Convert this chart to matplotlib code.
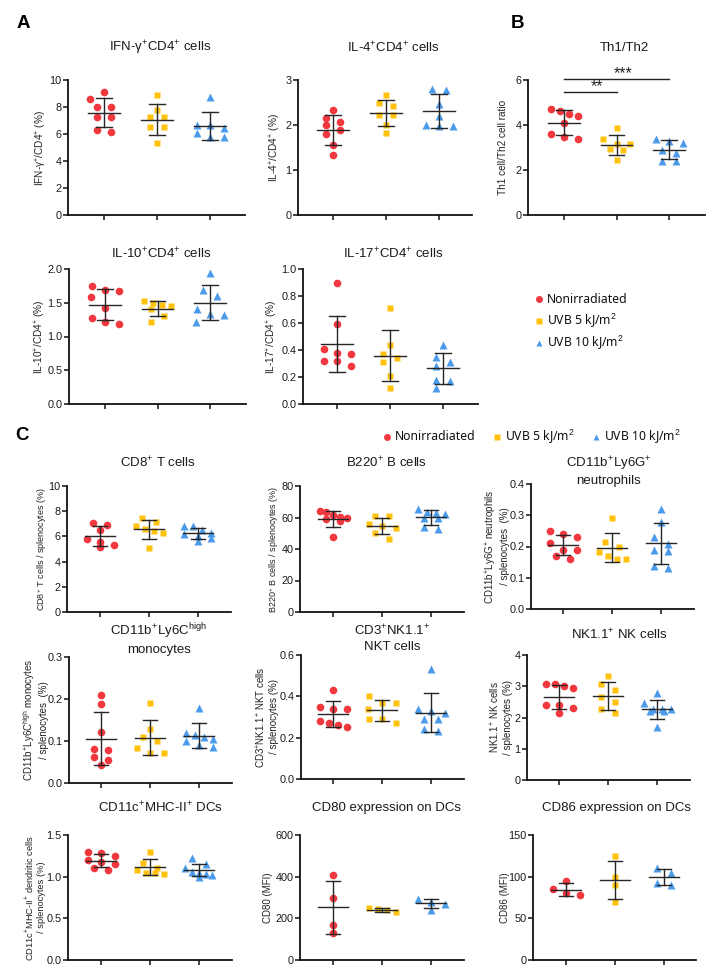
import numpy as np
import matplotlib
matplotlib.use("Agg")
import matplotlib.pyplot as plt
from matplotlib.lines import Line2D
from matplotlib.ticker import FormatStrFormatter

plt.rcParams['font.family'] = ['Liberation Sans', 'DejaVu Sans']
plt.rcParams['mathtext.fontset'] = 'custom'
plt.rcParams['mathtext.rm'] = 'Liberation Sans'
plt.rcParams['mathtext.it'] = 'Liberation Sans:italic'
plt.rcParams['mathtext.bf'] = 'Liberation Sans:bold'

W, H, DPI = 714, 976, 100

# ---------------- groups ----------------
group_labels = ['Nonirradiated', 'UVB 5 kJ/m$^2$', 'UVB 10 kJ/m$^2$']
group_colors = ['#F2383F', '#FFC20E', '#4B9BEA']
group_markers = ['o', 's', '^']

# ---------------- data (panel A / B) ----------------
ifng_non = [9.14, 8.57, 8.02, 8.02, 7.23, 7.23, 6.30, 6.17]
ifng_uv5 = [8.89, 7.78, 7.23, 7.23, 6.49, 6.49, 5.31]
ifng_uv10 = [8.77, 6.65, 6.65, 6.45, 5.80, 6.05, 5.80]

il4_non = [2.33, 2.16, 2.06, 1.99, 1.90, 1.79, 1.55, 1.33]
il4_uv5 = [2.67, 2.42, 2.49, 2.23, 2.23, 2.01, 1.82]
il4_uv10 = [2.81, 2.78, 2.46, 2.20, 2.00, 1.97, 1.97]

th_non = [4.64, 4.69, 4.42, 4.51, 4.09, 3.60, 3.38, 3.47]
th_uv5 = [3.87, 3.38, 3.17, 3.17, 2.95, 2.90, 2.43]
th_uv10 = [3.38, 3.30, 3.20, 2.90, 2.75, 2.40, 2.40]

il10_non = [1.69, 1.75, 1.68, 1.58, 1.42, 1.28, 1.18, 1.21]
il10_uv5 = [1.52, 1.50, 1.47, 1.45, 1.41, 1.31, 1.21]
il10_uv10 = [1.94, 1.69, 1.60, 1.41, 1.33, 1.32, 1.22]

il17_non = [0.90, 0.59, 0.41, 0.37, 0.38, 0.28, 0.32, 0.32]
il17_uv5 = [0.71, 0.44, 0.37, 0.34, 0.31, 0.21, 0.12]
il17_uv10 = [0.44, 0.31, 0.35, 0.28, 0.18, 0.17, 0.12]

# ---------------- data (panel C) ----------------
cd8_non = [7.08, 6.50, 5.78, 5.17, 5.57, 6.90, 5.30]
cd8_uv5 = [7.16, 7.48, 6.55, 6.85, 6.45, 6.30, 5.09]
cd8_uv10 = [6.85, 6.80, 6.50, 6.30, 6.20, 6.00, 5.90, 5.60]

b220_non = [64.0, 63.2, 61.6, 60.5, 60.0, 59.0, 58.0, 47.5]
b220_uv5 = [60.7, 60.7, 56.0, 54.3, 53.3, 50.0, 46.4]
b220_uv10 = [65.7, 63.5, 62.8, 62.5, 60.0, 59.5, 54.0, 52.4]

neu_non = [0.25, 0.24, 0.23, 0.21, 0.19, 0.19, 0.17, 0.16]
neu_uv5 = [0.291, 0.213, 0.20, 0.181, 0.16, 0.16, 0.17]
neu_uv10 = [0.319, 0.277, 0.208, 0.229, 0.187, 0.19, 0.13, 0.138]

mono_non = [0.21, 0.189, 0.121, 0.081, 0.078, 0.063, 0.054, 0.044]
mono_uv5 = [0.191, 0.129, 0.11, 0.083, 0.099, 0.071, 0.072]
mono_uv10 = [0.179, 0.12, 0.115, 0.11, 0.105, 0.10, 0.09, 0.085]

nkt_non = [0.43, 0.35, 0.34, 0.34, 0.28, 0.27, 0.25, 0.26]
nkt_uv5 = [0.40, 0.37, 0.37, 0.34, 0.29, 0.27, 0.29]
nkt_uv10 = [0.531, 0.33, 0.34, 0.32, 0.29, 0.29, 0.23, 0.24]

nk_non = [3.01, 2.93, 3.07, 3.07, 2.40, 2.40, 2.31, 2.13]
nk_uv5 = [3.33, 3.07, 2.88, 2.65, 2.50, 2.26, 2.13]
nk_uv10 = [2.79, 2.45, 2.27, 2.27, 2.27, 2.20, 2.20, 1.69]

dc_non = [1.30, 1.28, 1.25, 1.20, 1.18, 1.15, 1.10, 1.08]
dc_uv5 = [1.30, 1.17, 1.10, 1.08, 1.05, 1.05, 1.03]
dc_uv10 = [1.22, 1.15, 1.10, 1.06, 1.05, 1.03, 1.02, 1.00]

cd80_non = [410, 300, 170, 130]
cd80_uv5 = [250, 245, 240, 230]
cd80_uv10 = [295, 280, 270, 240]

cd86_non = [95, 85, 80, 78]
cd86_uv5 = [125, 100, 90, 70]
cd86_uv10 = [110, 105, 90, 92]

# ---------------- panel specs ----------------
# rect: (x_left, x_right, y_top, y_bottom) in pixels; g1/sp: first group px, spacing px
panels = [
    dict(data=(ifng_non, ifng_uv5, ifng_uv10), rect=(68, 245, 80, 215), g1=104, sp=53,
         ylim=(0, 10), yticks=[0, 2, 4, 6, 8, 10], fmt='%d',
         title='IFN-γ$^{+}$CD4$^{+}$ cells', txy=(160, 48),
         ylabel='IFN-γ$^{+}$/CD4$^{+}$ (%)', ylx=41, ylfs=7.2),
    dict(data=(il4_non, il4_uv5, il4_uv10), rect=(298, 472, 80, 215), g1=333, sp=53,
         ylim=(0, 3), yticks=[0, 1, 2, 3], fmt='%d',
         title='IL-4$^{+}$CD4$^{+}$ cells', txy=(393, 48),
         ylabel='IL-4$^{+}$/CD4$^{+}$ (%)', ylx=275, ylfs=7.2),
    dict(data=(th_non, th_uv5, th_uv10), rect=(528, 705, 80, 215), g1=564, sp=52.5,
         ylim=(0, 6), yticks=[0, 2, 4, 6], fmt='%d',
         title='Th1/Th2', txy=(624, 48),
         ylabel='Th1 cell/Th2 cell ratio', ylx=503, ylfs=7.2),
    dict(data=(il10_non, il10_uv5, il10_uv10), rect=(69, 246, 269, 404), g1=105, sp=52.5,
         ylim=(0, 2), yticks=[0, 0.5, 1.0, 1.5, 2.0], fmt='%.1f',
         title='IL-10$^{+}$CD4$^{+}$ cells', txy=(161, 254),
         ylabel='IL-10$^{+}$/CD4$^{+}$ (%)', ylx=40, ylfs=7.2),
    dict(data=(il17_non, il17_uv5, il17_uv10), rect=(303, 478, 269, 404), g1=337, sp=53,
         ylim=(0, 1), yticks=[0, 0.2, 0.4, 0.6, 0.8, 1.0], fmt='%.1f',
         title='IL-17$^{+}$CD4$^{+}$ cells', txy=(393, 254),
         ylabel='IL-17$^{+}$/CD4$^{+}$ (%)', ylx=272, ylfs=7.2),
    dict(data=(cd8_non, cd8_uv5, cd8_uv10), rect=(67, 231, 486, 612), g1=100, sp=49,
         ylim=(0, 10), yticks=[0, 2, 4, 6, 8, 10], fmt='%d',
         title='CD8$^{+}$ T cells', txy=(158, 463),
         ylabel='CD8$^{+}$ T cells / splenocytes (%)', ylx=42, ylfs=6.5),
    dict(data=(b220_non, b220_uv5, b220_uv10), rect=(300, 464, 486, 612), g1=333, sp=49,
         ylim=(0, 80), yticks=[0, 20, 40, 60, 80], fmt='%d',
         title='B220$^{+}$ B cells', txy=(387, 463),
         ylabel='B220$^{+}$ B cells / splenocytes (%)', ylx=274, ylfs=6.5),
    dict(data=(neu_non, neu_uv5, neu_uv10), rect=(531, 694, 484, 609), g1=563, sp=49,
         ylim=(0, 0.4), yticks=[0, 0.1, 0.2, 0.3, 0.4], fmt='%.1f',
         title='CD11b$^{+}$Ly6G$^{+}$\nneutrophils', txy=(609, 471),
         ylabel='CD11b$^{+}$Ly6G$^{+}$ neutrophils\n/ splenocytes  (%)', ylx=497, ylfs=7.0),
    dict(data=(mono_non, mono_uv5, mono_uv10), rect=(69, 232, 657, 783), g1=101, sp=49,
         ylim=(0, 0.3), yticks=[0, 0.1, 0.2, 0.3], fmt='%.1f',
         title='CD11b$^{+}$Ly6C$^{\\mathrm{high}}$\nmonocytes', txy=(159, 639),
         ylabel='CD11b$^{+}$Ly6C$^{\\mathrm{high}}$ monocytes\n/ splenocytes  (%)', ylx=35, ylfs=7.0),
    dict(data=(nkt_non, nkt_uv5, nkt_uv10), rect=(301, 464, 655, 779), g1=333, sp=49,
         ylim=(0, 0.6), yticks=[0, 0.2, 0.4, 0.6], fmt='%.1f',
         title='CD3$^{+}$NK1.1$^{+}$\nNKT cells', txy=(392, 638),
         ylabel='CD3$^{+}$NK1.1$^{+}$ NKT cells\n/ splenocytes (%)', ylx=267, ylfs=7.0),
    dict(data=(nk_non, nk_uv5, nk_uv10), rect=(527, 690, 655, 780), g1=559, sp=49,
         ylim=(0, 4), yticks=[0, 1, 2, 3, 4], fmt='%d',
         title='NK1.1$^{+}$ NK cells', txy=(619, 635),
         ylabel='NK1.1$^{+}$ NK cells\n/ splenocytes (%)', ylx=501, ylfs=7.0),
    dict(data=(dc_non, dc_uv5, dc_uv10), rect=(68, 232, 835, 960), g1=101, sp=49,
         ylim=(0, 1.5), yticks=[0, 0.5, 1.0, 1.5], fmt='%.1f',
         title='CD11c$^{+}$MHC-II$^{+}$ DCs', txy=(160, 808),
         ylabel='CD11c$^{+}$MHC-II$^{+}$ dendritic cells\n/ splenocytes (%)', ylx=35, ylfs=6.7),
    dict(data=(cd80_non, cd80_uv5, cd80_uv10), rect=(300, 464, 835, 960), g1=333, sp=49,
         ylim=(0, 600), yticks=[0, 200, 400, 600], fmt='%d',
         title='CD80 expression on DCs', txy=(387, 808),
         ylabel='CD80 (MFI)', ylx=268, ylfs=7.0),
    dict(data=(cd86_non, cd86_uv5, cd86_uv10), rect=(533, 696, 835, 960), g1=566, sp=49,
         ylim=(0, 150), yticks=[0, 50, 100, 150], fmt='%d',
         title='CD86 expression on DCs', txy=(617, 808),
         ylabel='CD86 (MFI)', ylx=505, ylfs=7.0),
]

fig = plt.figure(figsize=(W / DPI, H / DPI), dpi=DPI)
fig.patch.set_facecolor('white')

MS = {'o': 5.5, 's': 5.0, '^': 5.6}
BINH = 7.0      # px, row height for the dot arrangement
HALF = 6.8      # px, shift for isolated points
SPREF = 13.6    # px, preferred spacing within a row
MAXW = 27.0     # px, max row width
DIAM = 7.0
VGAP = 8.0


def swarm(vals, ppx, ppy):
    v = np.asarray(vals, float)
    order = np.argsort(-v, kind='stable')
    ypx = v * ppy
    rows = []
    for i in order:
        if rows and (ypx[rows[-1][0]] - ypx[i]) < BINH:
            rows[-1].append(i)
        else:
            rows.append([i])
    offs = np.zeros(len(v))
    placed = []
    for r in rows:
        n = len(r)
        if n == 1:
            i = r[0]
            chosen = 0.0
            for c in [0.0, -HALF, HALF, -2 * HALF, 2 * HALF]:
                if all(not (abs(c - px) < DIAM and abs(ypx[i] - py) < VGAP) for px, py in placed):
                    chosen = c
                    break
            offs[i] = chosen
            placed.append((chosen, ypx[i]))
        else:
            s = min(SPREF, MAXW / (n - 1))
            for k, i in enumerate(r):
                c = (k - (n - 1) / 2) * s
                offs[i] = c
                placed.append((c, ypx[i]))
    return offs / ppx


axes = []
for p in panels:
    x0, x1, yt, yb = p['rect']
    ax = fig.add_axes([x0 / W, 1 - yb / H, (x1 - x0) / W, (yb - yt) / H])
    g1, sp = p['g1'], p['sp']
    ax.set_xlim(1 - (g1 - x0) / sp, 1 + (x1 - g1) / sp)
    ax.set_ylim(*p['ylim'])
    ppx = sp
    ppy = (yb - yt) / (p['ylim'][1] - p['ylim'][0])
    for gi, vals in enumerate(p['data']):
        xc = gi + 1
        offs = swarm(vals, ppx, ppy)
        ax.plot(xc + offs, vals, linestyle='none', marker=group_markers[gi],
                ms=MS[group_markers[gi]], mfc=group_colors[gi], mec='none',
                zorder=3, clip_on=False)
        m = np.mean(vals)
        s = np.std(vals, ddof=1)
        lc = '#262626'
        ax.plot([xc - 0.30, xc + 0.30], [m, m], color=lc, lw=1.0, zorder=4)
        ax.plot([xc - 0.15, xc + 0.15], [m + s, m + s], color=lc, lw=1.0, zorder=4)
        ax.plot([xc - 0.15, xc + 0.15], [m - s, m - s], color=lc, lw=1.0, zorder=4)
        ax.plot([xc, xc], [m - s, m + s], color=lc, lw=1.0, zorder=4)
    for side in ('top', 'right'):
        ax.spines[side].set_visible(False)
    for side in ('left', 'bottom'):
        ax.spines[side].set_linewidth(1.3)
        ax.spines[side].set_color('#111111')
    ax.set_yticks(p['yticks'])
    ax.yaxis.set_major_formatter(FormatStrFormatter(p['fmt']))
    ax.set_xticks([1, 2, 3])
    ax.set_xticklabels([])
    ax.tick_params(axis='both', direction='out', length=3.5, width=1.1, color='#111111',
                   labelsize=7.8, pad=1.2, labelcolor='#1a1a1a')
    ax.patch.set_alpha(0)
    fig.text(p['txy'][0] / W, 1 - p['txy'][1] / H, p['title'], ha='center', va='center',
             fontsize=9.5, color='#1a1a1a', linespacing=1.3)
    fig.text(p['ylx'] / W, 1 - ((yt + yb) / 2) / H, p['ylabel'], rotation=90,
             ha='center', va='center', fontsize=p['ylfs'], color='#222222', linespacing=1.2)
    axes.append(ax)

# significance bars in Th1/Th2
ax_th = axes[2]
sig_pairs = [(1, 2, 5.48, '**'), (1, 3, 6.06, '***')]
for a, b, yv, lab in sig_pairs:
    ax_th.plot([a, b], [yv, yv], color='#222222', lw=1.0, clip_on=False, zorder=5)
    ax_th.text((a + b) / 2 + 0.12, yv - 0.12, lab, ha='center', va='bottom', fontsize=11.5,
               color='#222222', clip_on=False)

# panel letters
for lab, (px, py) in {'A': (23, 24), 'B': (518, 24), 'C': (22, 436)}.items():
    fig.text(px / W, 1 - py / H, lab, ha='center', va='center', fontsize=13.5,
             fontweight='bold', color='black')

# legends
leg_font = ['Noto Sans', 'DejaVu Sans']
for gi, yp in enumerate([299, 321, 343]):
    fig.add_artist(Line2D([539 / W], [1 - yp / H], marker=group_markers[gi], ms=5.0,
                          mfc=group_colors[gi], mec='none', linestyle='none'))
    fig.text(547 / W, 1 - yp / H, group_labels[gi], ha='left', va='center',
             fontsize=8.8, family=leg_font, color='#111111')
for gi, xp in enumerate([387, 497, 596]):
    fig.add_artist(Line2D([xp / W], [1 - 437 / H], marker=group_markers[gi], ms=5.0,
                          mfc=group_colors[gi], mec='none', linestyle='none'))
    fig.text((xp + 8) / W, 1 - 437 / H, group_labels[gi], ha='left', va='center',
             fontsize=8.8, family=leg_font, color='#111111')

fig.savefig('out.png', dpi=DPI, facecolor='white')
